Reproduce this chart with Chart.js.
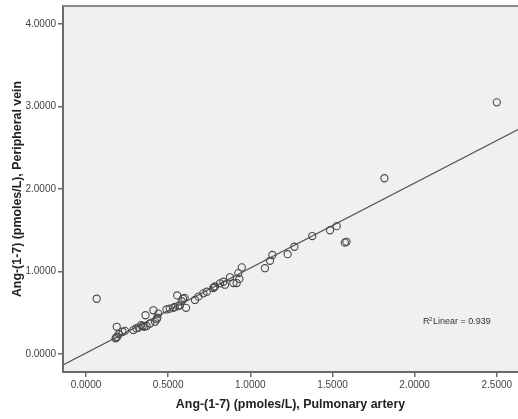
<!DOCTYPE html>
<html>
<head>
<meta charset="utf-8">
<script src="https://cdn.jsdelivr.net/npm/chart.js@4/dist/chart.umd.min.js"></script>
<style>
  html, body { margin: 0; padding: 0; background: #fff; }
  #wrap { width: 518px; height: 419px; }
</style>
</head>
<body>
<div id="wrap"><canvas id="c" width="518" height="419"></canvas></div>
<script>
// pulmonary artery (x) vs peripheral vein (y), pmoles/L
var arteryVals = [0.065, 0.18, 0.185, 0.19, 0.187, 0.20, 0.223, 0.237, 0.288, 0.305,
	0.32, 0.335, 0.345, 0.355, 0.362, 0.369, 0.39, 0.41, 0.42, 0.43,
	0.434, 0.44, 0.49, 0.51, 0.53, 0.54, 0.555, 0.56, 0.572, 0.582,
	0.59, 0.60, 0.609, 0.663, 0.684, 0.714, 0.735, 0.775, 0.78, 0.785,
	0.816, 0.836, 0.846, 0.876, 0.897, 0.917, 0.927, 0.933, 0.948, 1.089,
	1.12, 1.134, 1.227, 1.268, 1.377, 1.485, 1.526, 1.575, 1.585, 1.816, 2.5];
var veinVals = [0.67, 0.19, 0.20, 0.21, 0.33, 0.24, 0.27, 0.28, 0.29, 0.31,
	0.32, 0.35, 0.34, 0.33, 0.47, 0.34, 0.37, 0.53, 0.39, 0.42,
	0.44, 0.49, 0.54, 0.55, 0.56, 0.57, 0.71, 0.58, 0.59, 0.64,
	0.67, 0.68, 0.56, 0.655, 0.695, 0.735, 0.755, 0.80, 0.81, 0.82,
	0.857, 0.876, 0.84, 0.93, 0.86, 0.86, 0.98, 0.91, 1.05, 1.04,
	1.13, 1.20, 1.21, 1.30, 1.43, 1.50, 1.55, 1.35, 1.36, 2.13, 3.05];

var xTicks = [0, 0.5, 1, 1.5, 2, 2.5];
var yTicks = [0, 1, 2, 3, 4];
var xRange = [-0.14, 2.629];
var yRange = [-0.218, 4.218];

// fit line
var fitSlope = 1.03;
var fitIntercept = 0.012;
var rSquared = 0.939;

var points = [];
for (var i = 0; i < arteryVals.length; i++) {
	points.push({ x: arteryVals[i], y: veinVals[i] });
}
var fitLine = [
	{ x: xRange[0], y: fitIntercept + fitSlope * xRange[0] },
	{ x: xRange[1], y: fitIntercept + fitSlope * xRange[1] }
];

var plotBg = {
	id: 'plotBg',
	beforeDraw: function (chart) {
		var a = chart.chartArea, ctx = chart.ctx;
		ctx.save();
		ctx.fillStyle = '#f0f0f0';
		ctx.fillRect(a.left, a.top, a.right - a.left, a.bottom - a.top);
		ctx.restore();
	},
	afterDraw: function (chart) {
		var a = chart.chartArea, ctx = chart.ctx;
		ctx.save();
		ctx.strokeStyle = '#8a8a8a';
		ctx.lineWidth = 2;
		ctx.beginPath();
		ctx.moveTo(a.left, a.top);
		ctx.lineTo(a.right, a.top);
		ctx.stroke();
		// R2 label
		var xs = chart.scales.x, ys = chart.scales.y;
		var tx = xs.getPixelForValue(2.051), ty = ys.getPixelForValue(0.388);
		ctx.fillStyle = '#333';
		ctx.textBaseline = 'middle';
		ctx.font = '6px "Liberation Sans", Arial, sans-serif';
		ctx.fillText('2', tx + 6, ty - 3);
		ctx.font = '9px "Liberation Sans", Arial, sans-serif';
		ctx.fillText('R', tx, ty);
		ctx.fillText('Linear = ' + rSquared.toFixed(3), tx + 10, ty);
		ctx.restore();
	}
};

new Chart(document.getElementById('c'), {
	type: 'scatter',
	data: {
		datasets: [{
			label: 'Observed',
			data: points,
			pointRadius: 3.6,
			pointBorderWidth: 1.1,
			pointBorderColor: '#4a4a4a',
			pointBackgroundColor: 'rgba(0,0,0,0)'
		}, {
			label: 'Linear',
			type: 'line',
			data: fitLine,
			borderColor: '#555',
			borderWidth: 1.1,
			pointRadius: 0,
			fill: false
		}]
	},
	options: {
		responsive: false,
		animation: false,
		layout: { autoPadding: false, padding: { top: 6, right: 0, left: 0, bottom: 0 } },
		plugins: { legend: { display: false }, tooltip: { enabled: false } },
		scales: {
			x: {
				type: 'linear',
				min: xRange[0],
				max: xRange[1],
				afterFit: function (s) { s.height = 47; s.paddingLeft = 0; s.paddingRight = 0; },
				afterBuildTicks: function (s) {
					s.ticks = xTicks.map(function (v) { return { value: v }; });
				},
				border: { color: '#6a6a6a', width: 2 },
				grid: { drawOnChartArea: false, color: '#6a6a6a', tickLength: 5, lineWidth: 1.5 },
				ticks: {
					color: '#444',
					padding: 2,
					font: { family: '"Liberation Sans", Arial, sans-serif', size: 10 },
					callback: function (v) { return Number(v).toFixed(4); }
				},
				title: {
					display: true,
					text: 'Ang-(1-7) (pmoles/L), Pulmonary artery',
					color: '#222',
					padding: { top: 0, bottom: 7 },
					font: { family: '"Liberation Sans", Arial, sans-serif', size: 12.4, weight: 'bold' }
				}
			},
			y: {
				type: 'linear',
				min: yRange[0],
				max: yRange[1],
				afterFit: function (s) { s.width = 63; s.paddingTop = 0; s.paddingBottom = 0; },
				afterBuildTicks: function (s) {
					s.ticks = yTicks.map(function (v) { return { value: v }; });
				},
				border: { color: '#6a6a6a', width: 2 },
				grid: { drawOnChartArea: false, color: '#6a6a6a', tickLength: 5, lineWidth: 1.5 },
				ticks: {
					color: '#444',
					padding: 2,
					font: { family: '"Liberation Sans", Arial, sans-serif', size: 10 },
					callback: function (v) { return Number(v).toFixed(4); }
				},
				title: {
					display: true,
					text: 'Ang-(1-7) (pmoles/L), Peripheral vein',
					color: '#222',
					padding: { top: 10, bottom: 0 },
					font: { family: '"Liberation Sans", Arial, sans-serif', size: 12.4, weight: 'bold' }
				}
			}
		}
	},
	plugins: [plotBg]
});
</script>
</body>
</html>
